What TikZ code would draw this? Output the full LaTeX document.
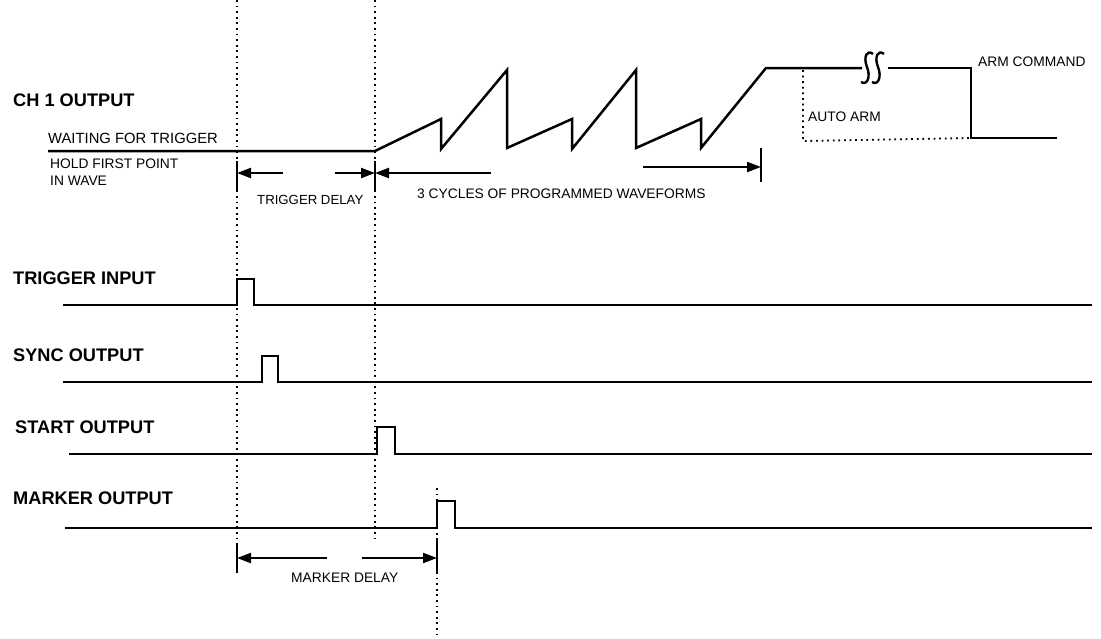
\documentclass[tikz,border=0pt]{standalone}
\usepackage{fontspec}
\setmainfont{Liberation Sans}
\usetikzlibrary{arrows.meta}
\begin{document}
\begin{tikzpicture}[x=1pt,y=-1pt,
  sig/.style={line width=2.5pt,line join=miter},
  vdot/.style={line width=1.8pt,dash pattern=on 1.8pt off 3.8pt},
  dim/.style={line width=2.2pt,-{Triangle[length=14pt,width=10pt]}},
  tick/.style={line width=2.2pt},
  lab/.style={font=\bfseries\fontsize{18.2}{19}\selectfont,inner sep=0pt,anchor=west},
  sml/.style={font=\fontsize{13.8}{14}\selectfont,inner sep=0pt,anchor=west}]
\useasboundingbox (0,0) rectangle (1101,638);
% ---------- coordinates ----------
\coordinate (d1t) at (237,0);   \coordinate (d1b) at (237,541);
\coordinate (d2t) at (375,0);   \coordinate (d2b) at (375,540);
\coordinate (d3t) at (437,488); \coordinate (d3b) at (437,638);
% dotted guide lines
\draw[vdot] (d1t) -- (d1b);
\draw[vdot] (d2t) -- (d2b);
\draw[vdot] (d3t) -- (d3b);
% ---------- CH1 output ----------
\node[lab] (ch1) at (13,100) {CH 1 OUTPUT};
\node[sml,font=\fontsize{14.8}{15}\selectfont] (wait) at (48,138.5) {WAITING FOR TRIGGER};
\node[sml] (hold) at (50,164) {HOLD FIRST POINT};
\node[sml] (inw) at (50,181) {IN WAVE};
\coordinate (c0) at (48,151);
\coordinate (c1) at (375,151);
\draw[sig] (c0) -- (c1) -- (441,119) -- (441,149) -- (507,70) -- (507,148)
  -- (572,119) -- (572,149) -- (636,70) -- (636,148) -- (701,119) -- (701,148)
  -- (766,68) -- (862,68);
\coordinate (s2) at (888,68);
\coordinate (arm) at (971,68);
\coordinate (armb) at (971,138);
\coordinate (cend) at (1057,138);
\draw[sig] (s2) -- (arm) -- (armb) -- (cend);
% break symbol
\foreach \cx in {867,878}{
  \draw[line width=2.4pt] (\cx+6,54) .. controls (\cx,49) and (\cx-4,57) .. (\cx,67)
    .. controls (\cx+4,77) and (\cx,86) .. (\cx-6,82);
}
% auto arm dotted
\coordinate (aa1) at (803,70);
\coordinate (aa2) at (803,141);
\draw[vdot] (aa1) -- (aa2) -- (armb);
\node[sml] (autoarm) at (808,117) {AUTO ARM};
\node[sml] (armcmd) at (978,62) {ARM COMMAND};
% ---------- trigger delay / cycles dimensions ----------
\coordinate (t1a) at (237,161); \coordinate (t1b) at (237,192);
\coordinate (t2a) at (375,161); \coordinate (t2b) at (375,192);
\draw[tick] (t1a) -- (t1b);
\draw[tick] (t2a) -- (t2b);
\coordinate (tdL) at (237,173); \coordinate (tdLs) at (283,173);
\coordinate (tdR) at (375,173); \coordinate (tdRs) at (335,173);
\coordinate (cyL) at (375,173); \coordinate (cyLs) at (491,173);
\draw[dim] (tdLs) -- (tdL);
\draw[dim] (tdRs) -- (tdR);
\draw[dim] (cyLs) -- (cyL);
\coordinate (t3a) at (761,148); \coordinate (t3b) at (761,182);
\draw[tick] (t3a) -- (t3b);
\coordinate (cyR) at (761,167); \coordinate (cyRs) at (643,167);
\draw[dim] (cyRs) -- (cyR);
\node[sml,font=\fontsize{13.2}{14}\selectfont] (tdlab) at (257,200) {TRIGGER DELAY};
\node[sml] (cylab) at (417,194) {3 CYCLES OF PROGRAMMED WAVEFORMS};
% ---------- trigger input ----------
\node[lab] (trig) at (13,278) {TRIGGER INPUT};
\coordinate (tr0) at (63,305); \coordinate (tr1) at (1092,305);
\draw[sig] (tr0) -- (237,305) -- (237,279) -- (254,279) -- (254,305) -- (tr1);
% ---------- sync output ----------
\node[lab] (sync) at (13,355) {SYNC OUTPUT};
\coordinate (sy0) at (63,382); \coordinate (sy1) at (1092,382);
\draw[sig] (sy0) -- (262,382) -- (262,356) -- (278,356) -- (278,382) -- (sy1);
% ---------- start output ----------
\node[lab] (start) at (15,427) {START OUTPUT};
\coordinate (st0) at (69,454); \coordinate (st1) at (1092,454);
\draw[sig] (st0) -- (377,454) -- (377,427) -- (395,427) -- (395,454) -- (st1);
% ---------- marker output ----------
\node[lab] (marker) at (13,498) {MARKER OUTPUT};
\coordinate (mk0) at (65,528); \coordinate (mk1) at (1092,528);
\draw[sig] (mk0) -- (437,528) -- (437,501) -- (455,501) -- (455,528) -- (mk1);
% ---------- marker delay ----------
\coordinate (m1a) at (237,543); \coordinate (m1b) at (237,573);
\coordinate (m2a) at (437,540); \coordinate (m2b) at (437,572);
\draw[tick] (m1a) -- (m1b);
\draw[tick] (m2a) -- (m2b);
\coordinate (mdL) at (237,558); \coordinate (mdLs) at (327,558);
\coordinate (mdR) at (437,558); \coordinate (mdRs) at (362,558);
\draw[dim] (mdLs) -- (mdL);
\draw[dim] (mdRs) -- (mdR);
\node[sml] (mdlab) at (291,578) {MARKER DELAY};
\end{tikzpicture}
\end{document}
